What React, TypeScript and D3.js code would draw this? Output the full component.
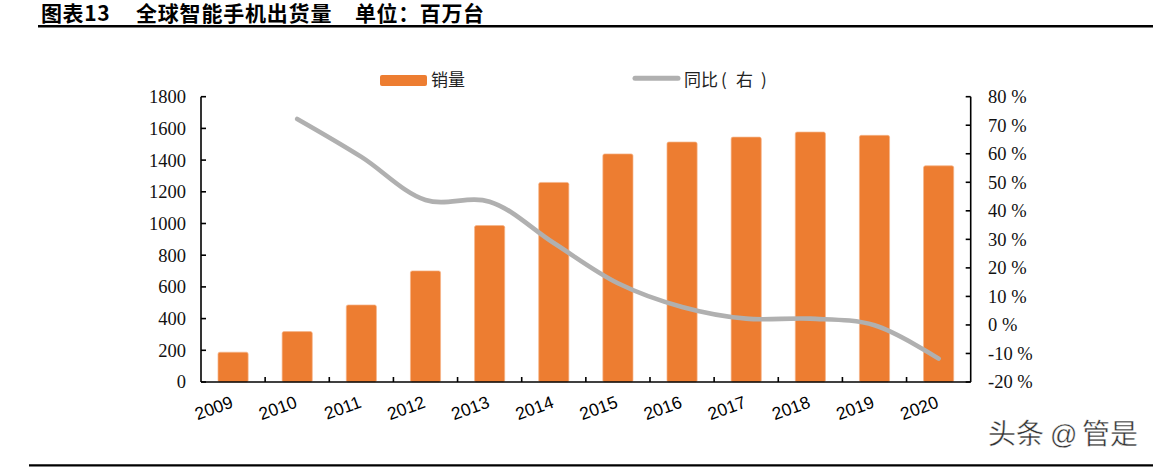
import React from "react";
import * as d3 from "d3";

const years = ["2009","2010","2011","2012","2013","2014","2015","2016","2017","2018","2019","2020"];
const shipments = [188, 318, 486, 701, 987, 1259, 1439, 1514, 1545, 1577, 1556, 1364];
const yoyYears = ["2010","2011","2012","2013","2014","2015","2016","2017","2018","2019","2020"];
const yoy = [72.2, 58.9, 43.8, 43.2, 28.7, 14.6, 6.3, 2.2, 2.2, -0.1, -11.8];
const leftTicks = [0, 200, 400, 600, 800, 1000, 1200, 1400, 1600, 1800];
const rightTicks = [-20, -10, 0, 10, 20, 30, 40, 50, 60, 70, 80];

const W = 1158, H = 469;
const X0 = 201, X1 = 970.7, Y0 = 382, Y1 = 96.7;

export default function App() {
  const x = d3.scaleBand<string>().domain(years).range([X0, X1]).padding(0);
  const yL = d3.scaleLinear().domain([0, 1800]).range([Y0, Y1]);
  const yR = d3.scaleLinear().domain([-20, 80]).range([Y0, Y1]);
  const bw = x.bandwidth() * 0.47;
  const cx = (d: string) => (x(d) as number) + x.bandwidth() / 2;
  const line = d3.line<number>()
    .x((_, i) => cx(yoyYears[i]))
    .y((d) => yR(d))
    .curve(d3.curveCatmullRom.alpha(0.5));

  const serif = "'Liberation Serif', 'DejaVu Serif', serif";
  const cjk = "'Noto Sans CJK SC', 'Noto Sans', sans-serif";
  const sans = "'Liberation Sans', Arial, sans-serif";

  return (
    <svg width={W} height={H} style={{ position: "absolute", left: 0, top: 0, background: "#fff" }}>
      {/* Title */}
      <g fontFamily={cjk} fontWeight="bold" fontSize={21} fill="#000">
        <text x={41} y={21} letterSpacing={0.6}>图表13</text>
        <text x={136} y={21} letterSpacing={0.8}>全球智能手机出货量</text>
        <text x={355} y={21} letterSpacing={0.6}>单位：百万台</text>
      </g>
      <line x1={38} x2={1153} y1={26.2} y2={26.2} stroke="#000" strokeWidth={2.4} />
      <line x1={29} x2={1153} y1={465.3} y2={465.3} stroke="#000" strokeWidth={2.2} />

      {/* Legend */}
      <rect x={380} y={75} width={47} height={11} rx={2} fill="#ED7D31" />
      <text x={431} y={86} fontFamily={cjk} fontSize={17} fill="#222">销量</text>
      <line x1={635} x2={678} y1={78.3} y2={78.3} stroke="#B0B0B0" strokeWidth={5} strokeLinecap="round" />
      <g fontFamily={cjk} fontSize={17} fill="#222">
        <text x={684} y={86}>同比</text>
        <text x={721} y={86}>(</text>
        <text x={736} y={86}>右</text>
        <text x={761} y={86}>)</text>
      </g>

      {/* Bars */}
      {years.map((yr, i) => (
        <rect key={yr} x={cx(yr) - bw / 2} y={yL(shipments[i])} width={bw}
          height={Y0 - yL(shipments[i])} rx={1.8} fill="#ED7D31" stroke="#F5B48A" strokeWidth={0.7} />
      ))}

      {/* Line */}
      <path d={line(yoy) || ""} fill="none" stroke="#B0B0B0" strokeWidth={4.6} strokeLinecap="round" strokeLinejoin="round" />

      {/* Axes */}
      <g stroke="#000" strokeWidth={1.6}>
        <line x1={X0} x2={X0} y1={Y1} y2={Y0} />
        <line x1={X1} x2={X1} y1={Y1} y2={Y0} />
        <line x1={X0} x2={X1} y1={Y0} y2={Y0} />
        {leftTicks.map((t) => (
          <line key={"l" + t} x1={X0} x2={X0 + 5} y1={yL(t)} y2={yL(t)} />
        ))}
        {rightTicks.map((t) => (
          <line key={"r" + t} x1={X1 - 5} x2={X1} y1={yR(t)} y2={yR(t)} />
        ))}
        {years.slice(1).map((yr) => (
          <line key={"x" + yr} x1={x(yr) as number} x2={x(yr) as number} y1={Y0} y2={Y0 - 5} />
        ))}
      </g>

      {/* Left tick labels */}
      <g fontFamily={serif} fontSize={18.5} fill="#111" textAnchor="end">
        {leftTicks.map((t) => (
          <text key={t} x={186} y={yL(t)} dy="0.35em">{t}</text>
        ))}
      </g>
      {/* Right tick labels */}
      <g fontFamily={serif} fontSize={18.5} fill="#111" textAnchor="start">
        {rightTicks.map((t) => (
          <text key={t} x={988} y={yR(t)} dy="0.35em">{(t < 0 ? "-" : "") + Math.abs(t) + " %"}</text>
        ))}
      </g>

      {/* X labels */}
      <g fontFamily={sans} fontSize={17.5} fill="#000" textAnchor="end">
        {years.map((yr) => (
          <text key={yr} transform={`translate(${cx(yr) + 1},${407}) rotate(-20)`}>{yr}</text>
        ))}
      </g>

      {/* Watermark */}
      <g fontFamily={cjk} fontSize={28} fill="#333" stroke="#fff" strokeWidth={0.4}>
        <text x={988} y={444}>头条</text>
        <text x={1050} y={444} fontFamily={sans} fontSize={27}>@</text>
        <text x={1082} y={444}>管是</text>
      </g>
    </svg>
  );
}
